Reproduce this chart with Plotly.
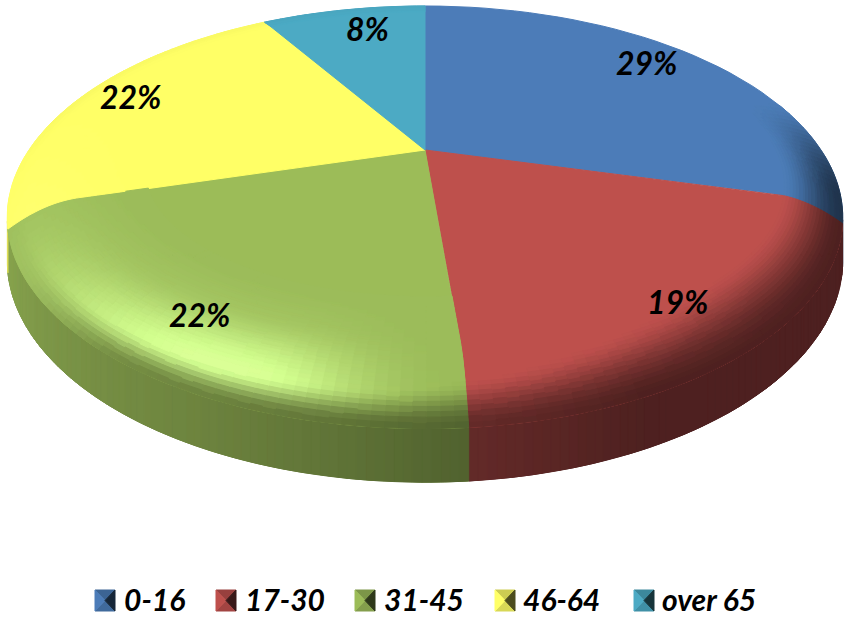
import math
import plotly.graph_objects as go

# data
age_groups = ['0-16', '17-30', '31-45', '46-64', 'over 65']
shares = [29.4, 19.3, 21.5, 21.8, 8.0]

# slice colours, same order as age_groups
colors = [(76, 125, 184), (190, 80, 77), (155, 187, 89), (255, 255, 102), (75, 170, 196)]

# pixel positions of the text and the legend
label_pos = [(647, 62), (678, 301), (200, 314), (131, 96), (367, 28)]
swatch_x = [95, 216, 355, 495, 634]
legend_text_x = [122, 243, 382, 521, 660]

# projection of the tilted disc, in page pixels
cx, cy = 425, 150
A, B, k = 405, 179.3, 0.245
droop = 31      # rounded edge falls away towards the viewer
rim_h = 40.5    # thickness of the disc
r0 = 0.84


def smooth(a, b, t):
    t = min(1, max(0, (t - a) / (b - a)))
    return t * t * (3 - 2 * t)


def project(r, th, z=0):
    u, v = r * math.sin(math.radians(th)), -r * math.cos(math.radians(th))
    w = 1 - k * v
    g = max(0, (r - r0) / (1 - r0)) ** 2
    n = -math.cos(math.radians(th))
    return cx + A * u / w, cy + (B * v + droop * g * (1 + n) / 2 + z) / w


def interp(t, xs, ys):
    if t <= xs[0]:
        return ys[0]
    for i in range(1, len(xs)):
        if t <= xs[i]:
            return ys[i - 1] + (ys[i] - ys[i - 1]) * (t - xs[i - 1]) / (xs[i] - xs[i - 1])
    return ys[-1]


def rim_color(i, th):
    f = interp(th, [90, 155, 175, 190, 205, 250, 270], [0.41, 0.41, 0.52, 0.62, 0.70, 0.87, 0.87])
    return [c * f for c in colors[i]]


def face_color(i, r, th):
    # highlight on the rounded edge, lower left
    d = max(0, math.cos(math.radians(th - 205)))
    gate = smooth(175, 200, th)
    h = (0.34 * smooth(0.78, 0.97, r) ** 2 * d ** 10 + 0.10 * smooth(0.66, 0.97, r) * d ** 2) * gate
    c = [x * (1 + h) + e * h for x, e in zip(colors[i], (0, 0, 60))]
    # dark edge on the side away from the light
    start = 0.86 + 0.09 * smooth(130, 190, th)
    band = smooth(start, 1.0, r) * smooth(70, 100, th) * (1 - smooth(215, 250, th) * 0.85)
    t = rim_color(i, th)
    return [x + (y - x) * band for x, y in zip(c, t)]


def key(c):
    return tuple(min(255, int(round(x / 2) * 2)) for x in c)


def add_poly(groups, col, pts):
    g = groups.setdefault(key(col), ([], []))
    for x, y in pts + [pts[0]]:
        g[0].append(x)
        g[1].append(y)
    g[0].append(None)
    g[1].append(None)


def draw(fig, groups):
    for col, (xs, ys) in groups.items():
        rgb = 'rgb({},{},{})'.format(*col)
        fig.add_trace(go.Scatter(x=xs, y=ys, mode='lines', fill='toself', fillcolor=rgb,
                                 line=dict(color=rgb, width=1), hoverinfo='skip', showlegend=False))


def near_side(th):
    # only the part of the wall that faces the viewer is seen
    return -math.cos(math.radians(th)) > 0.26


# slice edges in degrees, clockwise from the top
total = sum(shares)
edges = [0]
for s in shares:
    edges.append(edges[-1] + s / total * 360)

radii = [0, 0.3, 0.45, 0.55, 0.62, 0.68, 0.72] + [0.72 + 0.007 * n for n in range(1, 41)]

fig = go.Figure()

# side wall first, the top face covers what is behind it
# a plain backing per slice hides the seams between the strips
backing = {}
for i in range(len(shares)):
    angles = [edges[i] + (edges[i + 1] - edges[i]) * j / 30 for j in range(31)]
    angles = [a for a in angles if near_side(a)]
    if angles:
        add_poly(backing, rim_color(i, sum(angles) / len(angles)),
                 [project(1, a) for a in angles] + [project(1, a, rim_h) for a in reversed(angles)])
draw(fig, backing)

rim = {}
for i in range(len(shares)):
    n = max(2, int(edges[i + 1] - edges[i]))
    for j in range(n):
        a = edges[i] + (edges[i + 1] - edges[i]) * j / n
        b = edges[i] + (edges[i + 1] - edges[i]) * (j + 1) / n
        if near_side((a + b) / 2):
            add_poly(rim, rim_color(i, (a + b) / 2),
                     [project(1, a), project(1, b), project(1, b, rim_h), project(1, a, rim_h)])
draw(fig, rim)

# top face, backing follows the bent slice edges
backing = {}
for i in range(len(shares)):
    angles = [edges[i] + (edges[i + 1] - edges[i]) * j / 40 for j in range(41)]
    pts = [project(r, edges[i]) for r in radii]
    pts += [project(1, a) for a in angles[1:-1]]
    pts += [project(r, edges[i + 1]) for r in reversed(radii[1:])]
    add_poly(backing, colors[i], pts)
draw(fig, backing)

top = {}
for i in range(len(shares)):
    n = max(2, int((edges[i + 1] - edges[i]) / 1.5))
    for j in range(n):
        a = edges[i] + (edges[i + 1] - edges[i]) * j / n
        b = edges[i] + (edges[i + 1] - edges[i]) * (j + 1) / n
        for q in range(len(radii) - 1):
            r1, r2 = radii[q], radii[q + 1]
            col = face_color(i, (r1 + r2) / 2, (a + b) / 2)
            if key(col) == key(colors[i]):
                continue
            if r1 == 0:
                pts = [project(0, a), project(r2, a), project(r2, b)]
            else:
                pts = [project(r1, a), project(r2, a), project(r2, b), project(r1, b)]
            add_poly(top, col, pts)
draw(fig, top)

# percent labels
font = dict(family='Lato', size=32, color='black', weight='bold', style='italic')
for s, (x, y) in zip(shares, label_pos):
    fig.add_annotation(x=x, y=y, text='{:.0f}%'.format(s), showarrow=False, font=font)

# legend: small pyramid swatch and text
font = dict(family='Lato', size=30, color='black', weight='bold', style='italic')
legend = {}
for i, name in enumerate(age_groups):
    x0, x1, y0, y1 = swatch_x[i], swatch_x[i] + 20, 590, 611
    xm, ym = (x0 + x1) / 2, (y0 + y1) / 2
    add_poly(legend, [c * 0.8 for c in colors[i]], [(x0, y0), (x1, y0), (xm, ym)])
    add_poly(legend, [c * 0.85 for c in colors[i]], [(x0, y1), (x1, y1), (xm, ym)])
    add_poly(legend, colors[i], [(x0, y0), (x0, y1), (xm, ym)])
    add_poly(legend, [c * 0.3 for c in colors[i]], [(x1, y0), (x1, y1), (xm, ym)])
    fig.add_annotation(x=legend_text_x[i], y=598.5, text=name, showarrow=False, xanchor='left', font=font)
draw(fig, legend)

fig.update_xaxes(range=[0, 850], visible=False)
fig.update_yaxes(range=[617, 0], visible=False)
fig.update_layout(width=850, height=617, margin=dict(l=0, r=0, t=0, b=0),
                  paper_bgcolor='white', plot_bgcolor='white', showlegend=False)

# the browser's default body margin would push the chart off the page
fig.write_html('out.html', config={'displayModeBar': False},
               post_script="document.body.style.margin='0';document.body.style.overflow='hidden';")
